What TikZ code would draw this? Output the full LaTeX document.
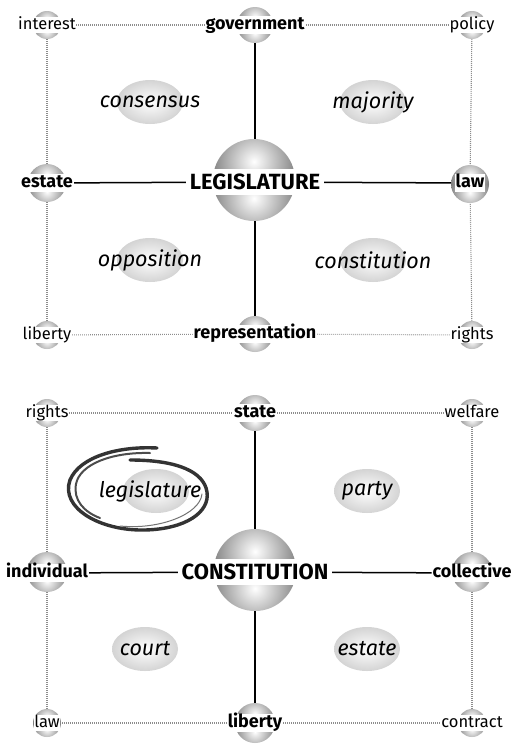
\documentclass[tikz,border=0pt]{standalone}
\usepackage{fontspec}
\setmainfont{Fira Sans}
\usetikzlibrary{backgrounds,calc}
\newcommand\mysphere[3]{%
  \begin{scope}
    \clip (#1,#2) circle (#3pt);
    \begin{scope}
      \clip (#1-#3,#2-#3) rectangle (#1+#3,#2);
      \shade[inner color=white, outer color=black!80] (#1,#2-0.45*#3) circle (1.7*#3pt);
    \end{scope}
    \begin{scope}
      \clip (#1-#3,#2) rectangle (#1+#3,#2+#3);
      \shade[inner color=white, outer color=black!80] (#1,#2+0.45*#3) circle (1.7*#3pt);
    \end{scope}
  \end{scope}}
\newcommand\myblob[2]{%
  \shade[inner color=white, outer color=black!17] (#1,#2) ellipse [x radius=33pt, y radius=22pt];}
\tikzset{
  corner/.style={fill=white, inner sep=0.5pt, font=\fontsize{16.5}{16.5}\selectfont, text height=11.5pt, text depth=3pt},
  mid/.style={fill=white, inner sep=0.8pt, font=\fontsize{18}{18}\selectfont\bfseries, text height=13pt, text depth=3.5pt},
  big/.style={fill=white, inner sep=3.5pt, font=\fontsize{22}{22}\selectfont\bfseries, text height=16.5pt, text depth=2.5pt},
  inner/.style={inner sep=0pt, font=\fontsize{21.5}{21.5}\selectfont\itshape},
  solid line/.style={line width=1.5pt, black},
  dot line/.style={line width=1.1pt, black!45, dash pattern=on 0.9pt off 1.1pt}
}
\begin{document}
\begin{tikzpicture}[x=1pt, y=-1pt]
\useasboundingbox (0,0) rectangle (512,744);
% spheres
\mysphere{47}{25}{14}
\mysphere{255}{25}{18}
\mysphere{472}{25}{14}
\mysphere{47}{183}{19}
\mysphere{254}{180}{41}
\mysphere{470}{184}{19}
\mysphere{47}{335}{14}
\mysphere{255}{334}{18}
\mysphere{472}{335}{14}
\mysphere{47}{413}{14}
\mysphere{255}{413}{18}
\mysphere{472}{413}{14}
\mysphere{47}{572}{20}
\mysphere{255}{570}{41}
\mysphere{472}{572}{20}
\mysphere{47}{723}{14}
\mysphere{255}{723}{20}
\mysphere{472}{723}{14}
% blobs
\myblob{150}{102}
\myblob{373}{102}
\myblob{150}{260}
\myblob{373}{260}
\myblob{156}{491}
\myblob{367}{491}
\myblob{145}{649}
\myblob{367}{649}
% top panel nodes
\node[corner] (interest) at (47,25) {interest};
\node[mid] (government) at (255,25) {government};
\node[corner] (policy) at (472,25) {policy};
\node[mid] (estate) at (47,183) {estate};
\node[big] (legislature) at (255,182) {LEGISLATURE};
\node[mid] (law) at (470,183) {law};
\node[corner] (liberty) at (47,335) {liberty};
\node[mid] (representation) at (255,334) {representation};
\node[corner] (rights) at (472,335) {rights};
\node[inner] (consensus) at (150,102) {consensus};
\node[inner] (majority) at (373,102) {majority};
\node[inner] (opposition) at (150,260) {opposition};
\node[inner] (constitution) at (373,260) {constitution};
% bottom panel nodes
\node[corner] (rights2) at (47,413) {rights};
\node[mid] (state) at (255,413) {state};
\node[corner] (welfare) at (472,413) {welfare};
\node[mid] (individual) at (47,573) {individual};
\node[big] (constitution2) at (255,572) {CONSTITUTION};
\node[mid] (collective) at (472,573) {collective};
\node[corner] (law2) at (47,723) {law};
\node[mid] (liberty2) at (255,723) {liberty};
\node[corner] (contract) at (472,723) {contract};
\node[inner] (legislature2) at (150,491) {legislature};
\node[inner] (party) at (367,491) {party};
\node[inner] (court) at (145,649) {court};
\node[inner] (estate2) at (367,649) {estate};
% hand-drawn circle
\draw[line width=3.4pt, black!80, line cap=round]
  (157,448) .. controls (120,446) and (80,456) .. (70,480)
  .. controls (60,508) and (100,531) .. (145,530)
  .. controls (186,529) and (210,512) .. (207,492)
  .. controls (204,472) and (178,460) .. (130,460);
\draw[line width=2pt, black!70, line cap=round]
  (150,453) .. controls (112,452) and (80,464) .. (76,484)
  .. controls (73,500) and (84,512) .. (100,518);
\draw[line width=1pt, black!55, line cap=round]
  (120,526) .. controls (160,530) and (200,514) .. (202,494);
% connectors
\begin{scope}[on background layer]
\fill[white] (0,0) rectangle (512,744);
\draw[solid line] (government) -- (legislature);
\draw[solid line] (legislature) -- (representation);
\draw[solid line] (estate) -- (legislature);
\draw[solid line] (legislature) -- (law);
\draw[dot line] (interest) -- (government);
\draw[dot line] (government) -- (policy);
\draw[dot line] (interest) -- (estate);
\draw[dot line] (estate) -- (liberty);
\draw[dot line] (policy) -- (law);
\draw[dot line] (law) -- (rights);
\draw[dot line] (liberty) -- (representation);
\draw[dot line] (representation) -- (rights);
\draw[solid line] (state) -- (constitution2);
\draw[solid line] (constitution2) -- (liberty2);
\draw[solid line] (individual) -- (constitution2);
\draw[solid line] (constitution2) -- (collective);
\draw[dot line] (rights2) -- (state);
\draw[dot line] (state) -- (welfare);
\draw[dot line] (rights2) -- (individual);
\draw[dot line] (individual) -- (law2);
\draw[dot line] (welfare) -- (collective);
\draw[dot line] (collective) -- (contract);
\draw[dot line] (law2) -- (liberty2);
\draw[dot line] (liberty2) -- (contract);
\end{scope}
\end{tikzpicture}
\end{document}
